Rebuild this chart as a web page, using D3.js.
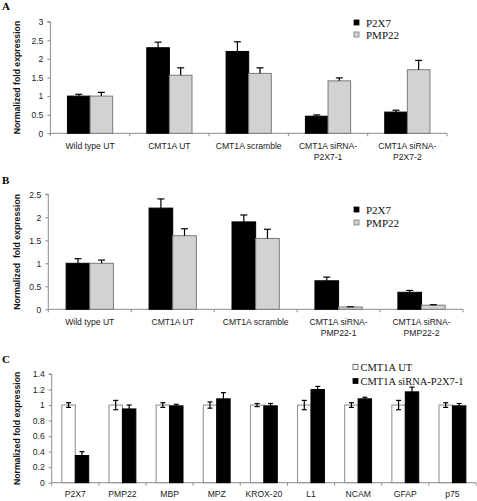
<!DOCTYPE html>
<html><head><meta charset="utf-8">
<script src="https://cdn.jsdelivr.net/npm/d3@7"></script>
<style>body{margin:0;background:#fff}svg{display:block}</style>
</head><body>
<script>
// ---- Data ----
const catsA = ["Wild type UT", "CMT1A UT", "CMT1A scramble", "CMT1A siRNA-\nP2X7-1", "CMT1A siRNA-\nP2X7-2"];
const p2x7A = [1.0, 2.3, 2.2, 0.46, 0.57];
const p2x7AErr = [0.05, 0.15, 0.26, 0.035, 0.05];
const pmp22A = [1.0, 1.56, 1.61, 1.41, 1.71];
const pmp22AErr = [0.1, 0.2, 0.15, 0.08, 0.25];
const ticksA = [0, 0.5, 1, 1.5, 2, 2.5, 3];

const catsB = ["Wild type UT", "CMT1A UT", "CMT1A scramble", "CMT1A siRNA-\nPMP22-1", "CMT1A siRNA-\nPMP22-2"];
const p2x7B = [1.0, 2.2, 1.9, 0.62, 0.37];
const p2x7BErr = [0.1, 0.2, 0.15, 0.08, 0.04];
const pmp22B = [1.0, 1.6, 1.54, 0.05, 0.09];
const pmp22BErr = [0.07, 0.15, 0.2, 0.005, 0.01];
const ticksB = [0, 0.5, 1, 1.5, 2, 2.5];

const catsC = ["P2X7", "PMP22", "MBP", "MPZ", "KROX-20", "L1", "NCAM", "GFAP", "p75"];
const utC = [1, 1, 1, 1, 1, 1, 1, 1, 1];
const utCErr = [0.03, 0.06, 0.03, 0.04, 0.02, 0.06, 0.03, 0.06, 0.03];
const siC = [0.35, 0.95, 0.99, 1.08, 0.99, 1.2, 1.08, 1.17, 0.99];
const siCErr = [0.05, 0.05, 0.02, 0.08, 0.03, 0.04, 0.02, 0.06, 0.03];
const ticksC = [0, 0.2, 0.4, 0.6, 0.8, 1.0, 1.2, 1.4];

// ---- Drawing ----
const W = 477, H = 501;
const svg = d3.select("body").append("svg").attr("width", W).attr("height", H);
const AXIS = "#8c8c8c";

function panel(o) {
  const g = svg.append("g");
  const x = d3.scaleBand().domain(o.cats).range([o.x0, o.x1]).padding(0);
  const y = d3.scaleLinear().domain([0, o.ymax]).range([o.y0, o.y1]);
  const bw = x.bandwidth() * 0.285;

  // y axis
  const ya = g.append("g").attr("transform", `translate(${o.x0},0)`)
    .call(d3.axisLeft(y).tickValues(o.ticks).tickSize(3).tickPadding(4)
      .tickFormat(o.fmt || (d => String(d))));
  ya.select(".domain").attr("stroke", AXIS).attr("d", `M-3,${o.y1}H0V${o.y0}`);
  ya.selectAll(".tick line").attr("stroke", AXIS);
  ya.selectAll(".tick text").attr("font-family", "Liberation Sans, Arial, sans-serif")
    .attr("font-size", 8.6).attr("fill", "#222");

  // x axis
  const xa = g.append("g").attr("transform", `translate(0,${o.y0})`);
  xa.append("line").attr("x1", o.x0).attr("x2", o.x1).attr("y1", 0).attr("y2", 0).attr("stroke", AXIS);
  const bounds = o.cats.map((c, i) => x(c)).concat([o.x1]);
  xa.selectAll("line.t").data(bounds).join("line").attr("class", "t")
    .attr("x1", d => d).attr("x2", d => d).attr("y1", 0).attr("y2", 3).attr("stroke", AXIS);
  const lab = xa.selectAll("text.l").data(o.cats).join("text").attr("class", "l")
    .attr("text-anchor", "middle").attr("font-family", "Liberation Sans, Arial, sans-serif")
    .attr("font-size", 8.6).attr("fill", "#222")
    .attr("transform", d => `translate(${x(d) + x.bandwidth() / 2},${o.labDy})`);
  lab.each(function (d) {
    const lines = d.split("\n");
    d3.select(this).selectAll("tspan").data(lines).join("tspan")
      .attr("x", 0).attr("dy", (l, i) => i === 0 ? 0 : 11).text(l => l);
  });

  // bars
  o.series.forEach((s, si) => {
    const off = si === 0 ? -bw : 0;
    g.selectAll(null).data(o.cats).join("rect")
      .attr("x", d => x(d) + x.bandwidth() / 2 + off)
      .attr("y", (d, i) => y(s.values[i]))
      .attr("width", bw)
      .attr("height", (d, i) => o.y0 - y(s.values[i]))
      .attr("fill", s.fill).attr("stroke", s.stroke).attr("stroke-width", 1);
    // error bars
    const eg = g.selectAll(null).data(o.cats).join("g")
      .attr("transform", d => `translate(${x(d) + x.bandwidth() / 2 + off + bw / 2},0)`);
    const cap = o.cap;
    eg.append("line").attr("x1", 0).attr("x2", 0)
      .attr("y1", (d, i) => o.twoSided ? y(s.values[i] - s.err[i]) : y(s.values[i]))
      .attr("y2", (d, i) => y(s.values[i] + s.err[i]))
      .attr("stroke", "#000").attr("stroke-width", 1.2);
    eg.append("line").attr("x1", -cap).attr("x2", cap)
      .attr("y1", (d, i) => y(s.values[i] + s.err[i]))
      .attr("y2", (d, i) => y(s.values[i] + s.err[i]))
      .attr("stroke", "#000").attr("stroke-width", 1.2);
    if (o.twoSided) {
      eg.append("line").attr("x1", -cap).attr("x2", cap)
        .attr("y1", (d, i) => y(s.values[i] - s.err[i]))
        .attr("y2", (d, i) => y(s.values[i] - s.err[i]))
        .attr("stroke", "#000").attr("stroke-width", 1.2);
    }
  });

  // y title
  g.append("text").attr("transform", `translate(${o.titleX},${(o.y0 + o.y1) / 2}) rotate(-90)`)
    .attr("text-anchor", "middle").attr("font-family", "Liberation Sans, Arial, sans-serif")
    .attr("font-weight", "bold").attr("font-size", 8.7).attr("fill", "#111")
    .attr("xml:space", "preserve").style("white-space", "pre")
    .text(o.title);

  // panel letter
  g.append("text").attr("x", 2).attr("y", o.letterY).attr("font-family", "Liberation Serif, Times New Roman, serif")
    .attr("font-weight", "bold").attr("font-size", 11).text(o.letter);

  // legend
  o.series.forEach((s, si) => {
    const ly = o.legY + si * o.legDy;
    g.append("rect").attr("x", o.legX).attr("y", ly - 6.5).attr("width", 5).attr("height", 5)
      .attr("fill", s.fill).attr("stroke", s.legStroke || s.stroke).attr("stroke-width", 0.8);
    g.append("text").attr("x", o.legX + o.legTx).attr("y", ly)
      .attr("font-family", "Liberation Serif, Times New Roman, serif")
      .attr("font-size", o.legFs).attr("fill", "#111").text(s.name);
  });
}

panel({
  cats: catsA, x0: 50.4, x1: 447, y0: 133.3, y1: 21.7, ymax: 3, ticks: ticksA,
  labDy: 16, titleX: 20, title: "Normalized fold expression", letter: "A", letterY: 10,
  cap: 3.5, twoSided: false,
  series: [
    { name: "P2X7", values: p2x7A, err: p2x7AErr, fill: "#000", stroke: "#000" },
    { name: "PMP22", values: pmp22A, err: pmp22AErr, fill: "#d2d2d2", stroke: "#7a7a7a" }
  ],
  legX: 354, legY: 26.5, legDy: 12, legTx: 12, legFs: 11
});

panel({
  cats: catsB, x0: 48.3, x1: 463, y0: 309.3, y1: 194.3, ymax: 2.5, ticks: ticksB,
  labDy: 15.5, titleX: 20, title: "Normalized  fold expression", letter: "B", letterY: 184,
  cap: 3.5, twoSided: false,
  series: [
    { name: "P2X7", values: p2x7B, err: p2x7BErr, fill: "#000", stroke: "#000" },
    { name: "PMP22", values: pmp22B, err: pmp22BErr, fill: "#d2d2d2", stroke: "#7a7a7a" }
  ],
  legX: 354, legY: 213.5, legDy: 13, legTx: 12, legFs: 11
});

panel({
  cats: catsC, x0: 51.7, x1: 476, y0: 482.7, y1: 374, ymax: 1.4, ticks: ticksC,
  labDy: 14.5, titleX: 20, title: "Normalized fold expression", letter: "C", letterY: 363,
  cap: 2.5, twoSided: true, fmt: d => d3.format("")(d),
  series: [
    { name: "CMT1A UT", values: utC, err: utCErr, fill: "#fff", stroke: "#8a8a8a", legStroke: "#555" },
    { name: "CMT1A siRNA-P2X7-1", values: siC, err: siCErr, fill: "#000", stroke: "#000" }
  ],
  legX: 353, legY: 371, legDy: 14, legTx: 7.5, legFs: 10.5
});
</script>
</body></html>
